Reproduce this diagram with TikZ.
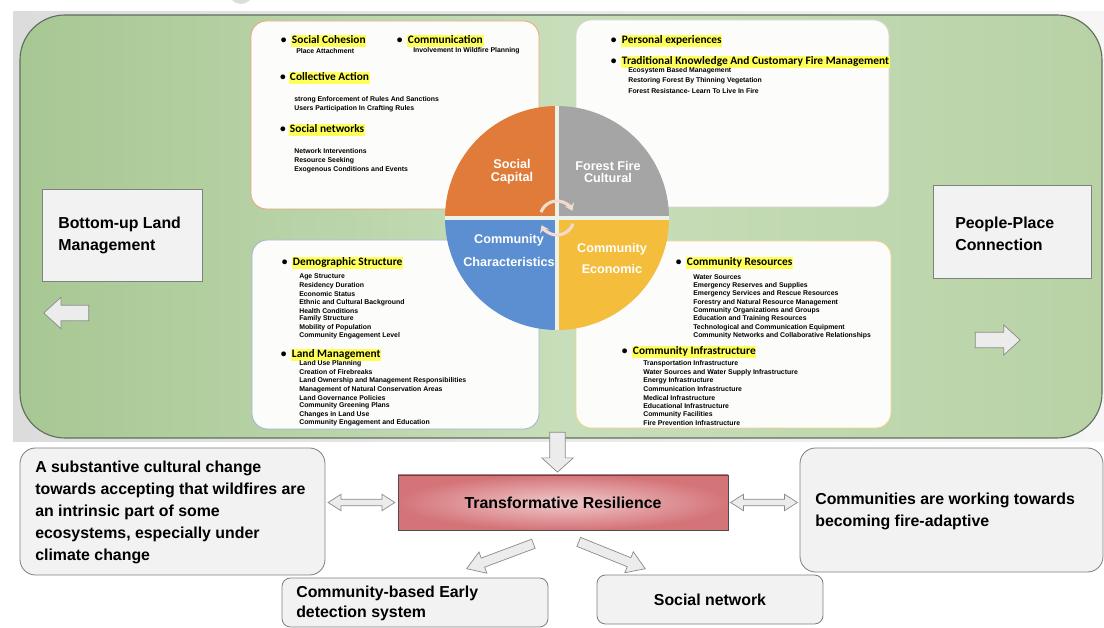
\documentclass[tikz,border=0pt]{standalone}
\usepackage{fontspec}
\setmainfont{Liberation Sans}
\newfontfamily\headfamily{Carlito}
\usetikzlibrary{positioning}
\usetikzlibrary{calc,fit}
\usetikzlibrary{shapes.arrows,arrows.meta}

\definecolor{backL}{HTML}{DCDCDC}
\definecolor{backR}{HTML}{F6F6F6}
\definecolor{panelL}{HTML}{A7C793}
\definecolor{panelM}{HTML}{C8DEBA}
\definecolor{panelR}{HTML}{B8D2A6}
\definecolor{panelline}{HTML}{5F6F5C}
\definecolor{boxwhite}{HTML}{FCFCFA}
\definecolor{capline}{HTML}{ECA677}
\definecolor{fireline}{HTML}{D6D6D6}
\definecolor{charline}{HTML}{9DB6D0}
\definecolor{ecoline}{HTML}{EFD68A}
\definecolor{capcol}{HTML}{E07B39}
\definecolor{firecol}{HTML}{A5A5A5}
\definecolor{charcol}{HTML}{5B8FD2}
\definecolor{ecocol}{HTML}{F4BD3C}
\definecolor{gapcol}{HTML}{EDF2E8}
\definecolor{ringcol}{HTML}{F3DCCF}
\definecolor{hilite}{HTML}{FFFF5A}
\definecolor{greyfill}{HTML}{F2F2F2}
\definecolor{greyline}{HTML}{808080}
\definecolor{arrowfill}{HTML}{ECECEC}
\definecolor{arrowline}{HTML}{8A8A8A}
\definecolor{trpink}{HTML}{F0CACB}
\definecolor{trred}{HTML}{D47479}

\newcommand{\itemsz}{\fontsize{4.9}{6}\selectfont\bfseries}
\newcommand{\headsz}{\headfamily\fontsize{8.1}{9.6}\selectfont\bfseries}
\newcommand{\bigsz}{\fontsize{11.3}{15.7}\selectfont\bfseries}
\newcommand{\piesz}{\fontsize{9}{9.2}\selectfont\bfseries}

\tikzset{
  panel/.style={draw=panelline, line width=0.8pt, rounded corners=32pt, inner sep=0pt,
    left color=panelL, right color=panelR, middle color=panelM},
  detailbox/.style={rounded corners=11pt, fill=boxwhite, line width=0.6pt, inner sep=0pt},
  headtxt/.style={anchor=west, fill=hilite, inner xsep=0.5pt, inner ysep=0.4pt,
    text height=6pt, text depth=1.8pt, font=\headsz},
  dot/.style={anchor=east, inner sep=0pt, font=\headsz},
  itemtxt/.style={anchor=west, inner sep=0pt, font=\itemsz},
  pietxt/.style={text=white, font=\piesz, align=center, inner sep=0pt},
  greybox/.style={draw=greyline, fill=greyfill, line width=0.6pt, inner sep=0pt},
  bigtxt/.style={anchor=west, align=left, inner sep=0pt, font=\bigsz},
  trbox/.style={draw=gray!60!black, line width=0.6pt, inner sep=0pt,
    inner color=trpink, outer color=trred},
  blockarrow/.style={single arrow, draw=arrowline, fill=arrowfill, line width=0.5pt, inner xsep=0pt},
  dblarrow/.style={double arrow, draw=arrowline, fill=arrowfill, line width=0.5pt,
    inner xsep=0pt, inner ysep=2.1pt, minimum height=47.5pt, minimum width=11.3pt,
    double arrow head extend=3.5pt, double arrow tip angle=65},
}

\begin{document}
\begin{tikzpicture}[x=0.025cm, y=-0.025cm]
 \useasboundingbox (0,0) rectangle (1104,628);

 %backdrop
 \fill[left color=backL, right color=backR] (13,12) rectangle (1104,442);
 \fill[backL] (241,-8) circle (12);

 %green panel
 \node[panel, fit={(20,15) (1102,438)}] (panel) {};

 %side boxes and arrows
 \node[greybox, fit={(42,189) (202,281)}] (landbox) {};
 \node[bigtxt] (landtxt) at (58,235) {Bottom-up Land\\Management};
 \node[blockarrow, rotate=180, inner ysep=5.3pt, minimum height=31.9pt, minimum width=22pt,
   single arrow head extend=5.7pt, single arrow tip angle=85] (landarr) at (70.5,313) {};

 \node[greybox, fit={(933,185) (1091,278)}] (placebox) {};
 \node[bigtxt] (placetxt) at (955,234) {People-Place\\Connection};
 \node[blockarrow, inner ysep=5.3pt, minimum height=31.9pt, minimum width=21pt,
   single arrow head extend=5.2pt, single arrow tip angle=85] (placearr) at (993.5,340) {};

 %detail boxes
 \node[detailbox, draw=capline, fit={(251,21) (539,209)}] (capbox) {};
 \node[detailbox, draw=fireline, fit={(576,20) (889,207)}] (firebox) {};
 \node[detailbox, draw=charline, fit={(252,240) (539,429)}] (charbox) {};
 \node[detailbox, draw=ecoline, fit={(576,241) (891,428)}] (ecobox) {};

 %social capital
 \node[headtxt] (coh) at (291,41) {Social Cohesion};
 \node[dot, left=3pt of coh] (cohdot) {\textbullet};
 \node[itemtxt] (coh0) at (296,51) {Place Attachment};
 \node[headtxt] (comm) at (407,41) {Communication};
 \node[dot, left=3pt of comm] (commdot) {\textbullet};
 \node[itemtxt] (comm0) at (413,51) {Involvement In Wildfire Planning};
 \node[headtxt] (coll) at (289,78) {Collective Action};
 \node[dot, left=2pt of coll] (colldot) {\textbullet};
 \foreach \t [count=\k from 0] in {strong Enforcement of Rules And Sanctions, Users Participation In Crafting Rules}
   \node[itemtxt] (coll\k) at (294,{100+\k*9}) {\t};
 \node[headtxt] (net) at (289,130) {Social networks};
 \node[dot, left=2pt of net] (netdot) {\textbullet};
 \foreach \t [count=\k from 0] in {Network Interventions, Resource Seeking, Exogenous Conditions and Events}
   \node[itemtxt] (net\k) at (294,{151+\k*9.5}) {\t};

 %forest fire cultural
 \node[headtxt] (pers) at (621,41) {Personal experiences};
 \node[dot, left=3pt of pers] (persdot) {\textbullet};
 \node[headtxt] (trad) at (621,62) {Traditional Knowledge And Customary Fire Management};
 \node[dot, left=3pt of trad] (traddot) {\textbullet};
 \foreach \t [count=\k from 0] in {Ecosystem Based Management, Restoring Forest By Thinning Vegetation, Forest Resistance- Learn To Live In Fire}
   \node[itemtxt] (trad\k) at (628,{71+\k*10}) {\t};

 %community characteristics
 \node[headtxt] (dem) at (292,263) {Demographic Structure};
 \node[dot, left=3pt of dem] (demdot) {\textbullet};
 \foreach \t [count=\k from 0] in {Age Structure, Residency Duration, Economic Status, Ethnic and Cultural Background,
     Health Conditions, Family Structure, Mobility of Population, Community Engagement Level}
   \node[itemtxt] (dem\k) at (299,{277+\k*8.43}) {\t};
 \node[headtxt] (land) at (291,355) {Land Management};
 \node[dot, left=3pt of land] (landdot) {\textbullet};
 \foreach \t [count=\k from 0] in {Land Use Planning, Creation of Firebreaks, Land Ownership and Management Responsibilities,
     Management of Natural Conservation Areas, Land Governance Policies, Community Greening Plans,
     Changes in Land Use, Community Engagement and Education}
   \node[itemtxt] (land\k) at (299,{364+\k*8.43}) {\t};

 %community economic
 \node[headtxt] (res) at (686,263) {Community Resources};
 \node[dot, left=3pt of res] (resdot) {\textbullet};
 \foreach \t [count=\k from 0] in {Water Sources, Emergency Reserves and Supplies, Emergency Services and Rescue Resources,
     Forestry and Natural Resource Management, Community Organizations and Groups, Education and Training Resources,
     Technological and Communication Equipment, Community Networks and Collaborative Relationships}
   \node[itemtxt] (res\k) at (693,{277+\k*8.43}) {\t};
 \node[headtxt] (infra) at (632,352) {Community Infrastructure};
 \node[dot, left=3pt of infra] (infradot) {\textbullet};
 \foreach \t [count=\k from 0] in {Transportation Infrastructure, Water Sources and Water Supply Infrastructure,
     Energy Infrastructure, Communication Infrastructure, Medical Infrastructure, Educational Infrastructure,
     Community Facilities, Fire Prevention Infrastructure}
   \node[itemtxt] (infra\k) at (643,{364+\k*8.43}) {\t};

 %pie
 \coordinate (pc) at (557,218);
 \foreach \a/\col in {180/capcol, 270/firecol, 90/charcol, 0/ecocol}
   \fill[\col] (pc) -- ++(\a:112) arc[start angle=\a, end angle=\a+90, radius=112] -- cycle;
 \draw[gapcol, line width=3.5pt] (pc) ++(0,-112) -- ++(0,224);
 \draw[gapcol, line width=3.5pt] (pc) ++(-112,0) -- ++(224,0);
 %cycle arrows
 \draw[ringcol, line width=2.2pt, -{Stealth[length=5pt,width=7pt]}] (pc) ++(-160:17) arc[start angle=-160, end angle=-25, radius=17];
 \draw[ringcol, line width=2.2pt, -{Stealth[length=5pt,width=7pt]}] (pc) ++(20:17) arc[start angle=20, end angle=155, radius=17];

 \node[pietxt] (captxt) at (512,172) {Social\\Capital};
 \node[pietxt] (firetxt) at (608,172) {Forest Fire\\Cultural};
 \node[pietxt] (chartxt) at (509,250.5) {Community\\[7pt]Characteristics};
 \node[pietxt] (ecotxt) at (612,258.5) {Community\\[5.7pt]Economic};

 %level 2
 \node[trbox, fit={(398,475) (728,530)}] (tr) {};
 \node[font=\bigsz, inner sep=0pt] (trtxt) at (tr.center) {Transformative Resilience};
 \node[greybox, rounded corners=11pt, fit={(20,448) (325,575)}] (subst) {};
 \node[bigtxt] (substtxt) at (35,512.5) {A substantive cultural change\\towards accepting that wildfires are\\an intrinsic part of some\\ecosystems, especially under\\climate change};
 \node[greybox, rounded corners=11pt, fit={(800,448) (1103,572)}] (adapt) {};
 \node[bigtxt] (adapttxt) at (815,511) {Communities are working towards\\becoming fire-adaptive};
 \node[greybox, rounded corners=6pt, fit={(282,578) (548,627)}] (early) {};
 \node[bigtxt] (earlytxt) at (296,603) {Community-based Early\\[-1.5pt]detection system};
 \node[greybox, rounded corners=6pt, fit={(597,575) (823,624)}] (socnet) {};
 \node[font=\bigsz, inner sep=0pt] (socnettxt) at (socnet.center) {Social network};

 %arrows
 \node[blockarrow, rotate=270, anchor=tip, inner ysep=5.3pt, minimum height=28.3pt, minimum width=22pt,
   single arrow head extend=5.7pt, single arrow tip angle=96] (down) at ($(tr.north)+(-5.5,-2)$) {};
 \node[dblarrow] (substarr) at ($(subst.east |- tr.west)!0.5!(tr.west)$) {};
 \node[dblarrow] (adaptarr) at ($(tr.east)!0.5!(adapt.west |- tr.east)$) {};
 \node[blockarrow, rotate=200.5, inner ysep=3.2pt, minimum height=50.7pt, minimum width=15.6pt,
   single arrow head extend=4.6pt, single arrow tip angle=66] (earlyarr) at ($(tr.south)+(-59.5,24.5)$) {};
 \node[blockarrow, rotate=-22, inner ysep=3.2pt, minimum height=51pt, minimum width=15.6pt,
   single arrow head extend=4.6pt, single arrow tip angle=66] (netarr) at ($(tr.south)+(45.5,23.5)$) {};

\end{tikzpicture}
\end{document}
